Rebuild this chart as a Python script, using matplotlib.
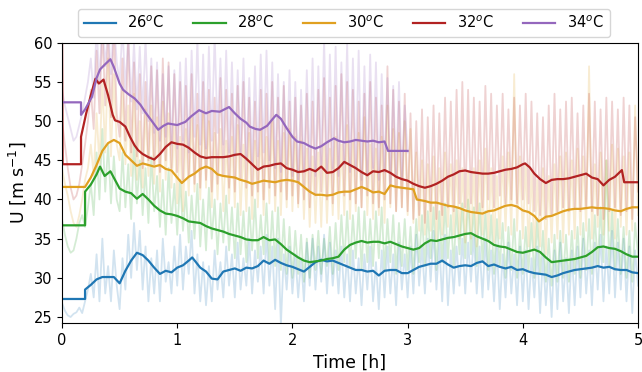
import numpy as np
import matplotlib
matplotlib.use("Agg")
import matplotlib.pyplot as plt

labels = ["26$^o$C", "28$^o$C", "30$^o$C", "32$^o$C", "34$^o$C"]
colors = ["#1f77b4", "#2ca02c", "#e0a020", "#b22222", "#9467bd"]

# raw series, sampled every 0.025 h
raw_step = 0.025
raw_26 = [26.8, 25.8, 25.2, 25.0, 25.4, 25.6, 26.2, 25.5, 27.0, 28.5, 30.5, 27.5, 33.0, 27.0, 35.0, 28.0, 31.5, 27.0, 33.5, 29.0,
          26.0, 32.5, 28.5, 35.5, 30.0, 37.0, 31.0, 36.0, 28.5, 34.0, 27.0, 32.5, 28.0, 33.5, 27.0, 35.0, 29.5, 32.0, 28.0, 34.0,
          29.0, 35.5, 28.5, 34.0, 30.5, 36.0, 28.0, 33.0, 27.0, 32.0, 26.5, 31.5, 27.0, 33.5, 28.5, 32.0, 27.5, 34.0, 29.0, 33.0,
          27.5, 34.5, 28.5, 32.5, 29.0, 35.0, 28.0, 33.5, 29.5, 34.0, 28.0, 35.5, 29.0, 34.0, 26.0, 35.0, 24.0, 33.0, 28.5, 34.0,
          28.0, 33.0, 27.5, 32.5, 27.0, 34.5, 29.0, 35.0, 28.5, 34.0, 29.5, 35.5, 28.0, 34.5, 29.0, 33.5, 28.0, 34.0, 27.5, 33.0,
          27.0, 33.5, 28.0, 32.5, 26.5, 33.0, 28.5, 34.0, 27.0, 32.0, 26.0, 33.5, 27.5, 34.0, 28.0, 33.0, 26.5, 34.5, 28.5, 33.0,
          27.5, 34.0, 28.0, 35.5, 29.0, 34.0, 28.0, 35.0, 29.5, 36.0, 28.5, 34.5, 27.0, 35.5, 26.5, 33.5, 28.0, 34.0, 29.0, 35.0,
          28.0, 34.5, 29.5, 35.5, 28.0, 34.0, 27.5, 35.0, 28.5, 33.5, 27.0, 34.0, 26.0, 33.0, 27.5, 34.5, 28.0, 33.0, 26.5, 34.0,
          27.0, 33.5, 26.0, 32.5, 27.5, 34.0, 25.5, 33.0, 26.5, 32.0, 25.0, 33.5, 26.0, 34.5, 27.0, 32.5, 25.5, 33.5, 26.5, 34.0,
          27.5, 35.0, 28.0, 33.5, 26.5, 34.5, 28.5, 35.5, 27.0, 34.0, 28.0, 36.0, 27.5, 34.5, 28.5, 35.0, 27.0, 34.0, 25.5, 33.5,
          29.0]
raw_28 = [37.5, 35.5, 34.0, 33.2, 33.5, 35.0, 37.0, 38.0, 36.5, 39.0, 42.0, 38.0, 46.0, 40.0, 49.0, 41.0, 47.0, 39.5, 45.5, 40.0,
          38.5, 46.0, 39.0, 44.5, 37.5, 47.0, 39.5, 45.0, 38.0, 44.0, 37.0, 45.5, 38.5, 43.0, 36.5, 42.5, 35.5, 44.0, 37.0, 42.0,
          35.5, 42.5, 36.0, 41.0, 34.5, 40.5, 35.0, 42.0, 34.0, 40.0, 33.5, 41.5, 35.0, 40.0, 33.0, 39.5, 34.5, 40.5, 33.5, 39.0,
          32.5, 39.5, 33.0, 38.5, 32.0, 39.0, 33.5, 40.0, 32.5, 38.0, 33.0, 39.5, 32.0, 38.5, 31.5, 39.0, 31.0, 37.5, 30.5, 36.5,
          30.0, 36.0, 30.5, 35.5, 29.5, 35.0, 30.0, 35.5, 31.0, 36.0, 30.5, 35.0, 31.5, 36.5, 30.5, 37.0, 31.0, 38.0, 32.0, 38.5,
          31.5, 38.0, 32.5, 39.0, 31.0, 38.5, 32.0, 37.5, 31.5, 38.5, 32.5, 39.0, 31.0, 37.5, 32.0, 38.0, 30.5, 37.0, 31.5, 37.5,
          31.0, 36.5, 30.5, 37.5, 32.0, 38.0, 31.5, 38.5, 32.5, 39.0, 31.0, 38.5, 32.0, 39.5, 32.5, 38.0, 31.5, 39.0, 33.0, 39.5,
          32.5, 40.0, 33.0, 39.0, 31.5, 39.5, 32.0, 38.5, 31.0, 38.0, 30.5, 37.5, 31.5, 37.0, 30.0, 36.5, 31.0, 37.5, 30.0, 36.0,
          30.5, 36.5, 31.0, 37.0, 30.0, 37.5, 30.5, 36.0, 29.5, 35.0, 29.0, 35.5, 29.5, 36.0, 30.0, 35.5, 29.5, 36.0, 30.5, 36.5,
          30.0, 37.0, 31.0, 37.5, 30.5, 38.0, 31.5, 39.0, 32.0, 45.0, 31.5, 38.5, 31.0, 37.5, 30.5, 36.5, 30.0, 36.0, 29.5, 37.0,
          33.0]
raw_30 = [44.0, 42.0, 40.5, 38.5, 37.0, 36.5, 38.0, 40.0, 42.5, 44.0, 47.0, 43.0, 51.0, 44.5, 55.0, 46.0, 58.0, 45.5, 56.0, 47.0,
          45.0, 54.0, 44.5, 52.0, 43.0, 53.5, 42.5, 50.0, 41.5, 51.5, 43.0, 52.0, 42.0, 50.5, 41.0, 52.5, 42.5, 51.0, 41.5, 49.5,
          39.5, 48.0, 38.5, 49.0, 40.5, 50.5, 41.0, 49.5, 40.0, 51.0, 41.5, 50.0, 39.0, 48.5, 40.0, 49.0, 38.5, 47.5, 39.5, 48.0,
          39.0, 49.5, 38.0, 47.0, 38.5, 48.5, 37.5, 47.5, 39.0, 49.0, 38.0, 48.0, 39.5, 50.0, 38.5, 47.5, 38.0, 48.5, 39.0, 49.0,
          38.5, 48.0, 39.0, 47.5, 37.5, 46.5, 36.5, 45.5, 37.0, 46.0, 36.5, 47.0, 37.0, 46.5, 38.0, 48.0, 37.5, 47.0, 38.0, 49.5,
          37.5, 47.5, 38.5, 48.5, 39.0, 50.5, 38.0, 47.0, 37.5, 46.5, 38.0, 48.0, 37.0, 52.0, 39.0, 49.0, 38.5, 48.5, 39.0, 50.0,
          38.0, 49.0, 37.0, 46.0, 36.0, 45.0, 35.5, 44.5, 36.0, 45.5, 35.0, 44.0, 35.5, 46.0, 36.5, 44.5, 35.5, 45.0, 35.0, 44.0,
          34.5, 43.5, 35.0, 44.0, 34.0, 45.0, 35.5, 46.5, 35.0, 44.0, 34.5, 43.0, 35.0, 45.5, 36.0, 46.0, 35.5, 56.0, 36.0, 45.5,
          35.0, 44.5, 34.0, 43.5, 33.5, 42.5, 34.0, 44.0, 33.0, 43.0, 34.5, 44.5, 35.0, 45.5, 34.5, 46.0, 35.5, 45.0, 35.0, 46.5,
          35.5, 45.5, 36.0, 57.0, 35.0, 44.5, 36.5, 46.0, 35.5, 45.0, 36.0, 47.0, 35.0, 46.5, 36.5, 45.5, 35.5, 46.0, 36.0, 52.0,
          38.0]
raw_32 = [50.0, 47.0, 44.0, 41.5, 40.0, 40.5, 42.0, 44.5, 47.0, 50.0, 54.0, 49.0, 59.0, 51.0, 62.0, 52.0, 61.0, 50.5, 62.0, 51.0,
          48.0, 58.0, 47.5, 61.0, 46.0, 57.5, 45.5, 56.0, 44.0, 55.0, 45.0, 57.0, 44.5, 56.5, 43.5, 58.0, 45.0, 57.5, 44.0, 56.0,
          43.5, 55.0, 42.5, 54.5, 43.0, 56.0, 42.0, 53.5, 41.5, 55.0, 42.5, 54.0, 41.0, 53.0, 42.0, 55.5, 43.0, 54.0, 41.5, 53.5,
          41.0, 54.5, 42.5, 55.0, 41.5, 53.0, 40.5, 52.5, 41.0, 54.0, 40.0, 53.5, 41.5, 55.0, 40.5, 53.0, 41.0, 54.5, 40.0, 52.5,
          40.5, 53.0, 39.5, 52.0, 40.0, 53.5, 39.0, 52.5, 40.5, 54.0, 41.0, 55.5, 40.0, 53.0, 39.5, 54.5, 41.0, 56.0, 40.5, 55.0,
          40.0, 54.0, 39.5, 52.5, 39.0, 53.5, 40.5, 55.0, 39.5, 53.0, 39.0, 52.0, 40.0, 57.0, 39.5, 54.0, 38.5, 52.5, 39.0, 53.5,
          38.5, 51.0, 37.5, 50.0, 38.0, 51.5, 37.0, 50.5, 38.5, 52.0, 37.5, 51.0, 38.0, 53.0, 39.0, 52.5, 38.5, 54.0, 39.5, 55.0,
          39.0, 54.0, 39.5, 53.0, 38.5, 52.5, 39.0, 54.5, 40.0, 53.5, 39.0, 52.0, 40.5, 53.5, 39.5, 51.5, 40.0, 53.0, 39.5, 52.0,
          40.0, 53.5, 39.5, 52.5, 38.5, 51.0, 38.0, 50.5, 37.5, 52.0, 38.0, 53.5, 38.5, 51.5, 39.0, 52.5, 38.5, 53.0, 39.0, 51.0,
          38.5, 52.0, 39.0, 53.5, 38.5, 52.5, 38.0, 51.5, 37.5, 53.0, 38.5, 52.5, 39.0, 51.5, 38.0, 53.0, 38.5, 52.0, 37.5, 50.5,
          41.0]
raw_34 = [54.0, 52.0, 50.5, 49.0, 47.5, 48.0, 49.5, 51.0, 53.0, 55.0, 58.0, 53.0, 62.0, 55.0, 63.0, 57.0, 62.0, 56.0, 63.0, 57.5,
          55.0, 62.0, 54.0, 61.0, 52.5, 60.0, 51.5, 59.5, 51.0, 60.5, 50.0, 58.0, 48.5, 57.5, 47.5, 56.0, 48.0, 57.0, 47.0, 56.5,
          46.5, 57.5, 47.5, 58.0, 46.0, 59.0, 48.0, 60.5, 47.0, 58.5, 46.5, 59.5, 47.5, 61.0, 48.5, 58.0, 47.0, 59.0, 46.0, 57.5,
          45.5, 56.5, 46.0, 58.0, 45.0, 55.5, 44.5, 57.0, 45.5, 58.5, 46.0, 59.0, 45.0, 57.5, 44.0, 56.0, 43.5, 55.0, 44.5, 56.5,
          43.0, 55.0, 42.5, 54.0, 43.5, 56.5, 44.0, 58.0, 43.0, 57.0, 44.5, 60.5, 43.5, 58.5, 44.0, 59.5, 43.0, 57.5, 44.5, 60.0,
          43.5, 58.0, 44.0, 59.0, 42.5, 57.0, 43.0, 58.5, 44.0, 57.5, 42.5, 56.0, 43.5, 55.5, 42.0, 54.5, 43.0, 55.0, 42.5, 52.0,
          46.0]

# smoothed series: (time [h], U)
t_26 = [0, 0.2, 0.2, 0.25, 0.3, 0.35, 0.4, 0.45, 0.5, 0.55, 0.6, 0.65, 0.7, 0.75, 0.8, 0.85, 0.9, 0.95, 1.0, 1.05, 1.1, 1.13,
        1.2, 1.25, 1.3, 1.35, 1.4, 1.45, 1.5, 1.55, 1.6, 1.65, 1.7, 1.75, 1.8, 1.85, 1.9, 1.95, 2.0, 2.05, 2.1, 2.15, 2.2, 2.25,
        2.3, 2.35, 2.4, 2.45, 2.5, 2.55, 2.6, 2.65, 2.7, 2.75, 2.8, 2.85, 2.9, 2.95, 3.0, 3.05, 3.1, 3.15, 3.2, 3.25, 3.3, 3.35,
        3.4, 3.45, 3.5, 3.55, 3.6, 3.65, 3.7, 3.75, 3.8, 3.85, 3.9, 3.95, 4.0, 4.05, 4.1, 4.15, 4.2, 4.25, 4.3, 4.35, 4.4, 4.45,
        4.5, 4.55, 4.6, 4.65, 4.7, 4.75, 4.8, 4.85, 4.9, 4.95, 5.0]
u_26 = [27.3, 27.3, 28.5, 29.1, 29.8, 30.1, 30.1, 30.1, 29.3, 30.9, 32.2, 33.2, 32.9, 32.2, 31.3, 30.5, 30.9, 30.7, 31.3, 31.6,
        32.2, 32.6, 31.3, 30.8, 29.9, 29.8, 30.8, 31.0, 31.2, 30.9, 31.3, 31.2, 31.5, 32.2, 31.8, 32.3, 31.9, 31.6, 31.4, 31.1,
        30.8, 31.4, 32.0, 32.3, 32.1, 32.2, 31.9, 31.6, 31.3, 31.0, 31.0, 30.8, 30.9, 30.3, 30.9, 31.0, 31.0, 30.6, 30.6, 31.0,
        31.4, 31.6, 31.8, 31.8, 32.2, 31.7, 31.3, 31.5, 31.6, 31.5, 31.9, 32.1, 31.5, 31.7, 31.4, 31.2, 31.4, 31.0, 31.1, 30.8,
        30.6, 30.5, 30.4, 30.1, 30.3, 30.6, 30.8, 31.0, 31.1, 31.2, 31.3, 31.5, 31.3, 31.4, 31.1, 31.0, 31.0, 30.7, 30.6]
t_28 = [0, 0.2, 0.2, 0.25, 0.3, 0.33, 0.37, 0.42, 0.46, 0.5, 0.55, 0.6, 0.65, 0.7, 0.75, 0.8, 0.85, 0.9, 0.95, 1.0, 1.05, 1.1,
        1.15, 1.2, 1.25, 1.3, 1.35, 1.4, 1.45, 1.5, 1.55, 1.6, 1.65, 1.7, 1.75, 1.8, 1.85, 1.9, 1.95, 2.0, 2.05, 2.1, 2.15, 2.2,
        2.25, 2.3, 2.35, 2.4, 2.45, 2.5, 2.55, 2.6, 2.65, 2.7, 2.75, 2.8, 2.85, 2.9, 2.95, 3.0, 3.05, 3.1, 3.15, 3.2, 3.25, 3.3,
        3.35, 3.4, 3.45, 3.5, 3.55, 3.6, 3.65, 3.7, 3.75, 3.8, 3.85, 3.9, 3.95, 4.0, 4.05, 4.1, 4.15, 4.2, 4.25, 4.3, 4.35, 4.4,
        4.45, 4.5, 4.55, 4.6, 4.65, 4.7, 4.75, 4.8, 4.85, 4.9, 4.95, 5.0]
u_28 = [36.7, 36.7, 41.0, 41.9, 43.2, 44.2, 43.0, 43.6, 42.5, 41.4, 41.0, 40.8, 40.1, 40.7, 40.0, 39.2, 38.6, 38.2, 38.1, 37.9,
        37.6, 37.2, 37.1, 37.0, 36.6, 36.3, 36.1, 35.9, 35.6, 35.4, 35.2, 34.9, 34.8, 34.8, 35.2, 34.8, 34.9, 34.3, 33.6, 33.1,
        32.6, 32.2, 32.0, 32.1, 32.2, 32.4, 32.5, 32.7, 33.6, 34.2, 34.5, 34.7, 34.5, 34.6, 34.6, 34.4, 34.6, 34.3, 34.0, 33.8,
        33.6, 33.8, 34.4, 34.8, 34.7, 34.9, 35.1, 35.2, 35.4, 35.6, 35.7, 35.3, 35.0, 34.7, 34.2, 34.0, 33.9, 33.6, 33.3, 33.2,
        33.4, 33.6, 33.3, 32.6, 32.0, 32.1, 32.2, 32.3, 32.4, 32.6, 32.8, 33.3, 33.9, 34.0, 33.8, 33.7, 33.4, 33.0, 32.7, 32.7]
t_30 = [0, 0.2, 0.25, 0.3, 0.35, 0.4, 0.45, 0.5, 0.55, 0.6, 0.65, 0.7, 0.75, 0.8, 0.85, 0.9, 0.95, 1.0, 1.04, 1.1, 1.15, 1.2,
        1.25, 1.3, 1.35, 1.4, 1.45, 1.5, 1.55, 1.6, 1.65, 1.7, 1.75, 1.8, 1.85, 1.9, 1.95, 2.0, 2.05, 2.1, 2.15, 2.2, 2.25, 2.3,
        2.35, 2.4, 2.45, 2.5, 2.55, 2.6, 2.65, 2.7, 2.75, 2.8, 2.85, 2.9, 2.95, 3.0, 3.05, 3.08, 3.15, 3.2, 3.25, 3.3, 3.35, 3.4,
        3.45, 3.5, 3.55, 3.6, 3.65, 3.7, 3.75, 3.8, 3.85, 3.9, 3.95, 4.0, 4.05, 4.1, 4.14, 4.2, 4.25, 4.3, 4.35, 4.4, 4.45, 4.5,
        4.55, 4.6, 4.65, 4.7, 4.75, 4.8, 4.85, 4.9, 4.95, 5.0]
u_30 = [41.6, 41.6, 42.8, 44.4, 46.2, 47.2, 47.6, 47.2, 45.7, 45.0, 44.3, 44.6, 44.4, 44.2, 44.4, 43.9, 43.7, 42.8, 42.1, 42.9,
        43.3, 43.9, 44.2, 43.9, 43.2, 43.0, 42.9, 42.8, 42.5, 42.3, 42.0, 42.2, 42.4, 42.3, 42.2, 42.4, 42.5, 42.4, 42.2, 41.6,
        41.0, 40.6, 40.6, 40.5, 40.6, 40.9, 41.0, 41.0, 41.3, 41.6, 41.3, 40.9, 41.0, 40.7, 41.8, 41.6, 41.5, 41.4, 41.3, 40.0,
        39.8, 39.6, 39.6, 39.4, 39.2, 39.1, 38.9, 38.6, 38.4, 38.3, 38.2, 38.5, 38.6, 38.9, 39.2, 39.3, 39.1, 38.6, 38.4, 37.9,
        37.2, 37.8, 37.9, 38.2, 38.5, 38.7, 38.8, 38.8, 38.9, 39.0, 38.9, 38.9, 38.8, 38.6, 38.5, 38.8, 39.0, 39.0]
t_32 = [0, 0.005, 0.165, 0.165, 0.21, 0.25, 0.29, 0.32, 0.36, 0.4, 0.44, 0.46, 0.5, 0.55, 0.59, 0.63, 0.66, 0.7, 0.75, 0.8,
        0.85, 0.9, 0.95, 1.0, 1.05, 1.1, 1.15, 1.2, 1.25, 1.3, 1.35, 1.4, 1.45, 1.5, 1.55, 1.6, 1.65, 1.7, 1.75, 1.8, 1.85, 1.9,
        1.95, 2.0, 2.05, 2.1, 2.15, 2.2, 2.25, 2.3, 2.35, 2.4, 2.45, 2.5, 2.55, 2.6, 2.65, 2.7, 2.75, 2.8, 2.85, 2.9, 2.95, 3.0,
        3.05, 3.1, 3.15, 3.2, 3.25, 3.3, 3.35, 3.4, 3.45, 3.5, 3.55, 3.6, 3.65, 3.7, 3.75, 3.8, 3.85, 3.9, 3.95, 4.0, 4.02, 4.06,
        4.1, 4.15, 4.2, 4.25, 4.3, 4.35, 4.4, 4.45, 4.5, 4.55, 4.6, 4.65, 4.7, 4.75, 4.8, 4.86, 4.88, 5.0]
u_32 = [61.0, 44.5, 44.5, 48.0, 51.0, 53.3, 55.4, 54.8, 55.3, 53.3, 50.8, 50.1, 49.9, 49.3, 48.0, 46.9, 46.3, 45.8, 45.4, 45.1,
        45.8, 46.7, 47.3, 47.1, 47.0, 46.6, 46.0, 45.5, 45.3, 45.4, 45.4, 45.4, 45.5, 45.7, 45.8, 45.2, 44.5, 43.8, 44.2, 44.3,
        44.5, 44.6, 44.0, 43.8, 43.5, 43.6, 43.9, 43.6, 44.2, 43.4, 43.5, 44.0, 44.8, 44.4, 44.0, 43.5, 43.1, 43.6, 43.5, 43.75,
        43.4, 42.9, 42.6, 42.4, 42.0, 41.7, 41.5, 41.7, 42.0, 42.4, 42.9, 43.2, 43.6, 43.7, 43.5, 43.4, 43.3, 43.3, 43.4, 43.6,
        43.8, 43.9, 44.1, 44.5, 44.6, 44.1, 43.3, 42.6, 42.1, 42.5, 42.6, 42.6, 42.7, 42.9, 43.1, 43.3, 42.8, 42.6, 41.8, 42.5,
        42.9, 43.75, 42.2, 42.2]
t_34 = [0, 0.165, 0.165, 0.2, 0.26, 0.3, 0.33, 0.37, 0.42, 0.45, 0.5, 0.53, 0.58, 0.63, 0.68, 0.72, 0.78, 0.835, 0.88, 0.92,
        1.0, 1.07, 1.12, 1.19, 1.25, 1.3, 1.37, 1.45, 1.5, 1.55, 1.6, 1.63, 1.68, 1.72, 1.78, 1.83, 1.86, 1.9, 1.95, 2.0, 2.04,
        2.1, 2.15, 2.2, 2.25, 2.3, 2.36, 2.4, 2.45, 2.5, 2.55, 2.6, 2.65, 2.7, 2.75, 2.8, 2.83, 3.0]
u_34 = [52.4, 52.4, 50.8, 51.5, 53.1, 55.5, 56.6, 57.2, 57.9, 56.9, 54.8, 54.0, 53.4, 52.9, 52.1, 51.2, 50.0, 48.9, 49.4, 49.7,
        49.5, 49.9, 50.6, 51.4, 51.0, 51.3, 51.2, 51.8, 51.0, 50.3, 49.8, 49.3, 49.0, 48.9, 49.4, 50.3, 50.8, 50.3, 49.1, 48.0,
        47.4, 47.2, 46.8, 46.5, 46.8, 47.3, 47.8, 47.5, 47.3, 47.4, 47.6, 47.5, 47.4, 47.5, 47.3, 47.4, 46.2, 46.2]

raws = [raw_26, raw_28, raw_30, raw_32, raw_34]
smooth = [(t_26, u_26), (t_28, u_28), (t_30, u_30), (t_32, u_32), (t_34, u_34)]

fig = plt.figure(figsize=(6.42, 3.72), dpi=100)
ax = fig.add_axes([0.0966, 0.131, 0.8972, 0.754])

for raw, c in zip(raws, colors):
    tr = np.arange(len(raw)) * raw_step
    ax.plot(tr, raw, color=c, alpha=0.2, lw=1.3)

for (t, u), c, lab in zip(smooth, colors, labels):
    ax.plot(t, u, color=c, lw=1.6, label=lab)

ax.set_xlim(0, 5)
ax.set_ylim(24.2, 60)
ax.set_xticks([0, 1, 2, 3, 4, 5])
ax.set_yticks([25, 30, 35, 40, 45, 50, 55, 60])
ax.tick_params(labelsize=10.5)
ax.set_xlabel("Time [h]", fontsize=12.5)
ax.set_ylabel("U [m s$^{-1}$]", fontsize=12.5)

ax.legend(loc="lower center", bbox_to_anchor=(0.489, 1.02), ncol=5, fontsize=10.5,
          frameon=True, handlelength=2.2, columnspacing=2.0, borderaxespad=0.0)

fig.savefig("out.png", dpi=100)
